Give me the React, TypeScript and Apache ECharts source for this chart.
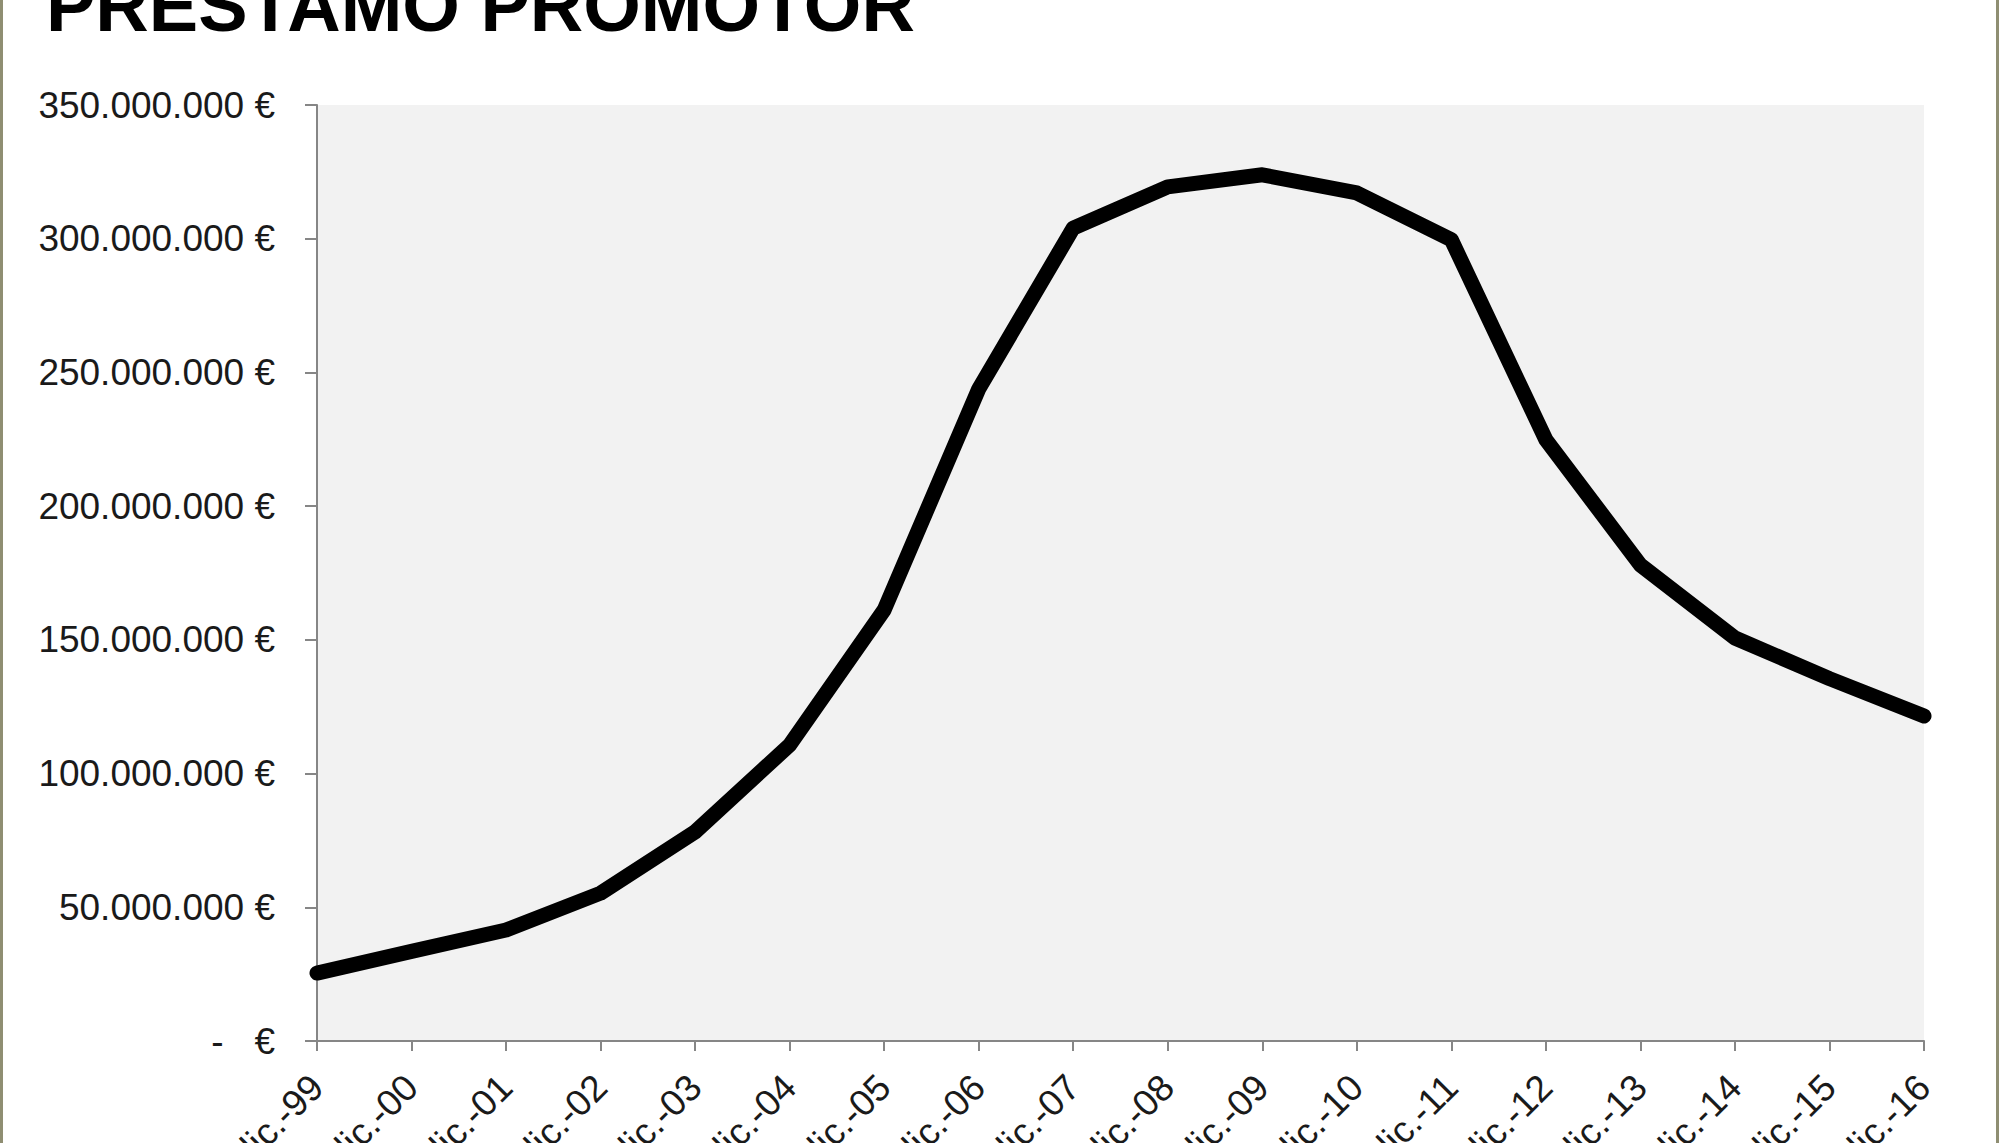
import { useEffect, useRef } from 'react'
import * as echarts from 'echarts'

// Saldo vivo préstamo promotor, diciembre de cada año (euros)
const categories = [
  'dic.-99', 'dic.-00', 'dic.-01', 'dic.-02', 'dic.-03', 'dic.-04',
  'dic.-05', 'dic.-06', 'dic.-07', 'dic.-08', 'dic.-09', 'dic.-10',
  'dic.-11', 'dic.-12', 'dic.-13', 'dic.-14', 'dic.-15', 'dic.-16'
]

const saldoMillones = [
  25.4, 33.5, 41.5, 55.3, 78.2, 110.7, 161.2, 243.8, 304.0,
  319.4, 323.9, 317.1, 299.6, 224.8, 178.0, 150.7, 135.5, 121.5
]

const saldo = saldoMillones.map((m) => Math.round(m * 1_000_000))

const Y_MAX = 350_000_000
const Y_STEP = 50_000_000

const FONT = "'Liberation Sans', Arial, sans-serif"
const AXIS_GREY = '#868686'
const FRAME = '#8f8e72'

const formatEuro = (v: number) => {
  if (v === 0) return '-\u00a0\u00a0\u00a0€'
  return String(Math.round(v)).replace(/\B(?=(\d{3})+(?!\d))/g, '.') + ' €'
}

export default function App() {
  const chartRef = useRef<HTMLDivElement | null>(null)

  useEffect(() => {
    if (!chartRef.current) return
    const chart = echarts.init(chartRef.current, null, { renderer: 'svg' })

    const option: echarts.EChartsOption = {
      animation: false,
      backgroundColor: '#ffffff',
      grid: {
        left: 317,
        right: 76,
        top: 105,
        bottom: 102,
        outerBoundsMode: 'none',
        containLabel: false,
        show: true,
        backgroundColor: '#f2f2f2',
        borderWidth: 0
      } as any,
      xAxis: {
        type: 'category',
        data: categories,
        boundaryGap: false,
        axisLine: { show: true, lineStyle: { color: AXIS_GREY, width: 2 } },
        axisTick: { show: true, length: 10, lineStyle: { color: AXIS_GREY, width: 2 } },
        axisLabel: {
          interval: 0,
          rotate: 45,
          margin: 40,
          fontSize: 37,
          fontFamily: FONT,
          color: '#1a1a1a'
        },
        splitLine: { show: false }
      },
      yAxis: {
        type: 'value',
        min: 0,
        max: Y_MAX,
        interval: Y_STEP,
        axisLine: { show: true, lineStyle: { color: AXIS_GREY, width: 2 } },
        axisTick: { show: true, length: 12, lineStyle: { color: AXIS_GREY, width: 2 } },
        axisLabel: {
          margin: 42,
          fontSize: 37,
          fontFamily: FONT,
          color: '#1a1a1a',
          formatter: (v: number) => formatEuro(v)
        },
        splitLine: { show: false }
      },
      graphic: [
        {
          type: 'text',
          left: 46,
          top: -32,
          style: {
            text: 'PRESTAMO PROMOTOR',
            font: `bold 74px ${FONT}`,
            fill: '#000000'
          }
        },
        {
          type: 'rect',
          left: 0,
          top: 0,
          shape: { width: 3, height: 1143 },
          style: { fill: FRAME }
        },
        {
          type: 'rect',
          left: 1996,
          top: 0,
          shape: { width: 3, height: 1143 },
          style: { fill: FRAME }
        }
      ],
      series: [
        {
          type: 'line',
          data: saldo,
          showSymbol: false,
          symbol: 'none',
          lineStyle: { color: '#000000', width: 15, join: 'round', cap: 'round' },
          emphasis: { disabled: true }
        }
      ]
    }

    chart.setOption(option)
    return () => chart.dispose()
  }, [])

  return (
    <div
      ref={chartRef}
      style={{ position: 'fixed', left: 0, top: 0, width: 2000, height: 1143 }}
    />
  )
}
